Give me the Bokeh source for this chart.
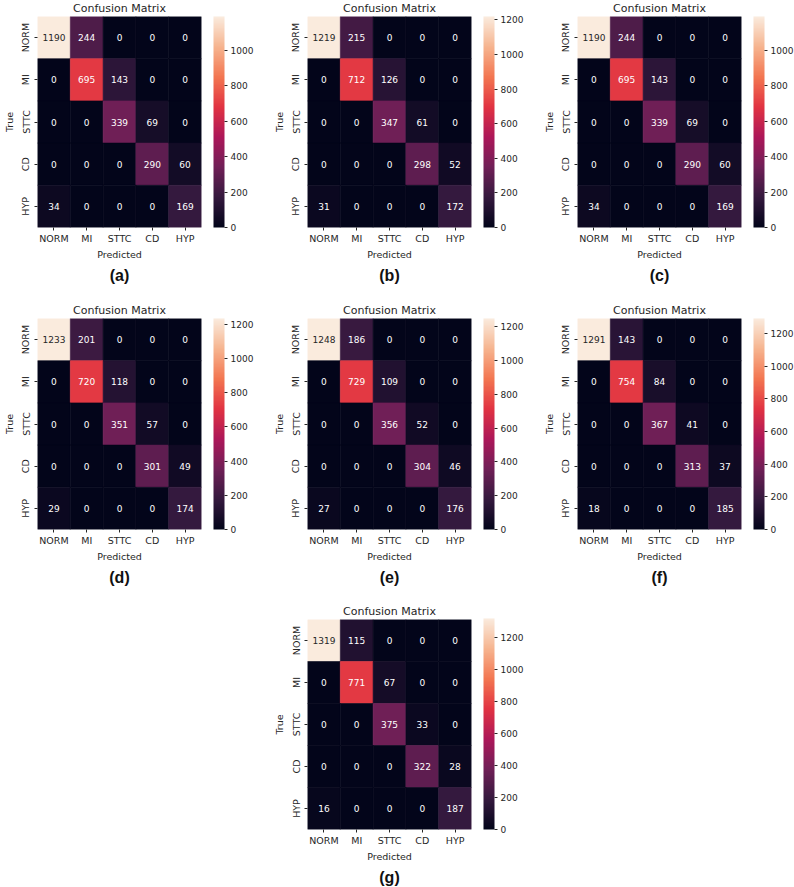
from bokeh.plotting import figure
from bokeh.models import LinearColorMapper, ColorBar, SingleIntervalTicker, Title, ColumnDataSource, Spacer
from bokeh.layouts import column, row
from bokeh.embed import file_html
from bokeh.resources import INLINE
from bokeh.core.properties import value

# ---------------- data ----------------
classes = ["NORM", "MI", "STTC", "CD", "HYP"]
panel_tags = ["(a)", "(b)", "(c)", "(d)", "(e)", "(f)", "(g)"]

cm_a = [[1190, 244, 0, 0, 0], [0, 695, 143, 0, 0], [0, 0, 339, 69, 0], [0, 0, 0, 290, 60], [34, 0, 0, 0, 169]]
cm_b = [[1219, 215, 0, 0, 0], [0, 712, 126, 0, 0], [0, 0, 347, 61, 0], [0, 0, 0, 298, 52], [31, 0, 0, 0, 172]]
cm_c = [[1190, 244, 0, 0, 0], [0, 695, 143, 0, 0], [0, 0, 339, 69, 0], [0, 0, 0, 290, 60], [34, 0, 0, 0, 169]]
cm_d = [[1233, 201, 0, 0, 0], [0, 720, 118, 0, 0], [0, 0, 351, 57, 0], [0, 0, 0, 301, 49], [29, 0, 0, 0, 174]]
cm_e = [[1248, 186, 0, 0, 0], [0, 729, 109, 0, 0], [0, 0, 356, 52, 0], [0, 0, 0, 304, 46], [27, 0, 0, 0, 176]]
cm_f = [[1291, 143, 0, 0, 0], [0, 754, 84, 0, 0], [0, 0, 367, 41, 0], [0, 0, 0, 313, 37], [18, 0, 0, 0, 185]]
cm_g = [[1319, 115, 0, 0, 0], [0, 771, 67, 0, 0], [0, 0, 375, 33, 0], [0, 0, 0, 322, 28], [16, 0, 0, 0, 187]]

# ---------------- colormap (seaborn "rocket" approximation) ----------------
ROCKET_STOPS = ["#03051a", "#35193e", "#701f57", "#ad1759", "#e13342", "#f37651", "#f6b48f", "#faebdd"]


def _hex2rgb(h):
    return tuple(int(h[i:i + 2], 16) for i in (1, 3, 5))


def build_palette(stops, n=256):
    rgbs = [_hex2rgb(s) for s in stops]
    m = len(rgbs) - 1
    out = []
    for i in range(n):
        t = i / (n - 1) * m
        k = min(int(t), m - 1)
        f = t - k
        c = [round(rgbs[k][j] + (rgbs[k + 1][j] - rgbs[k][j]) * f) for j in range(3)]
        out.append("#%02x%02x%02x" % tuple(c))
    return out


PALETTE = build_palette(ROCKET_STOPS)


def lum(hexcol):
    def lin(c):
        c = c / 255.0
        return c / 12.92 if c <= 0.03928 else ((c + 0.055) / 1.055) ** 2.4
    r, g, b = _hex2rgb(hexcol)
    return 0.2126 * lin(r) + 0.7152 * lin(g) + 0.0722 * lin(b)


FONT = "DejaVu Sans"
TXT = "#262626"
FRAME_W = 170
FRAME_H = 211


def make_panel(cm, tag, width, height, bottom):
    vmax = max(max(r) for r in cm)
    p = figure(width=width, height=height, x_range=classes, y_range=list(reversed(classes)),
               output_backend="svg", toolbar_location=None, title="Confusion Matrix",
               min_border_left=31, min_border_right=width - 31 - FRAME_W,
               min_border_top=16, min_border_bottom=bottom)
    p.title.text_font = FONT
    p.title.text_font_size = "11px"
    p.title.text_font_style = "normal"
    p.title.text_color = TXT
    p.title.align = "center"
    p.title.vertical_align = "top"
    p.title.standoff = 0
    p.title.offset = 0

    mapper = LinearColorMapper(palette=PALETTE, low=0, high=vmax)
    xs, ys, vals, texts, tcols = [], [], [], [], []
    for i, tl in enumerate(classes):
        for j, pl in enumerate(classes):
            v = cm[i][j]
            xs.append(pl)
            ys.append(tl)
            vals.append(v)
            texts.append(str(v))
            idx = int(round(v / vmax * (len(PALETTE) - 1)))
            tcols.append(TXT if lum(PALETTE[idx]) > 0.408 else "#ffffff")
    src = ColumnDataSource(dict(x=xs, y=ys, val=vals, text=texts, tcol=tcols))
    p.rect(x="x", y="y", width=1, height=1, source=src,
           fill_color={"field": "val", "transform": mapper},
           line_color={"field": "val", "transform": mapper}, line_width=0.6)
    p.text(x="x", y="y", text="text", source=src, text_align="center", text_baseline="middle",
           text_font_size="9px", text_color="tcol", text_font=value(FONT))

    p.grid.visible = False
    p.outline_line_color = None
    for ax in (p.xaxis[0], p.yaxis[0]):
        ax.axis_line_color = None
        ax.major_tick_out = 3
        ax.major_tick_in = 0
        ax.major_tick_line_color = TXT
        ax.major_label_standoff = 2
        ax.major_label_text_font = FONT
        ax.major_label_text_font_size = "9.5px"
        ax.major_label_text_color = TXT
        ax.axis_label_text_font = FONT
        ax.axis_label_text_font_size = "9.5px"
        ax.axis_label_text_font_style = "normal"
        ax.axis_label_text_color = TXT
        ax.axis_label_standoff = 2
    p.xaxis.axis_label = "Predicted"
    p.yaxis.axis_label = "True"
    p.yaxis.major_label_orientation = "vertical"
    p.yaxis.major_label_standoff = 3
    p.yaxis.axis_label_standoff = 3

    cb = ColorBar(color_mapper=mapper, ticker=SingleIntervalTicker(interval=200, num_minor_ticks=0),
                  location=(FRAME_W + 6, 0), width=11, height=FRAME_H, padding=0, margin=0,
                  major_tick_out=3, major_tick_in=0,
                  major_tick_line_color=TXT, label_standoff=3,
                  major_label_text_font=FONT, major_label_text_font_size="9px",
                  major_label_text_color=TXT, bar_line_color=None, border_line_color=None,
                  background_fill_alpha=0, minor_tick_line_color=None)
    p.add_layout(cb)

    p.add_layout(Title(text=tag, align="center", text_font="Liberation Sans", text_font_size="16px",
                       text_font_style="bold", text_color="#111111", standoff=4), "below")
    return p


pa = make_panel(cm_a, panel_tags[0], 270, 302, 75)
pb = make_panel(cm_b, panel_tags[1], 270, 302, 75)
pc = make_panel(cm_c, panel_tags[2], 254, 302, 75)
pd = make_panel(cm_d, panel_tags[3], 270, 301, 74)
pe = make_panel(cm_e, panel_tags[4], 270, 301, 74)
pf = make_panel(cm_f, panel_tags[5], 254, 301, 74)
pg = make_panel(cm_g, panel_tags[6], 270, 284, 57)

layout = column(row(pa, pb, pc), row(pd, pe, pf), row(Spacer(width=270, height=284), pg))

open("out.html", "w").write(file_html(layout, INLINE))
